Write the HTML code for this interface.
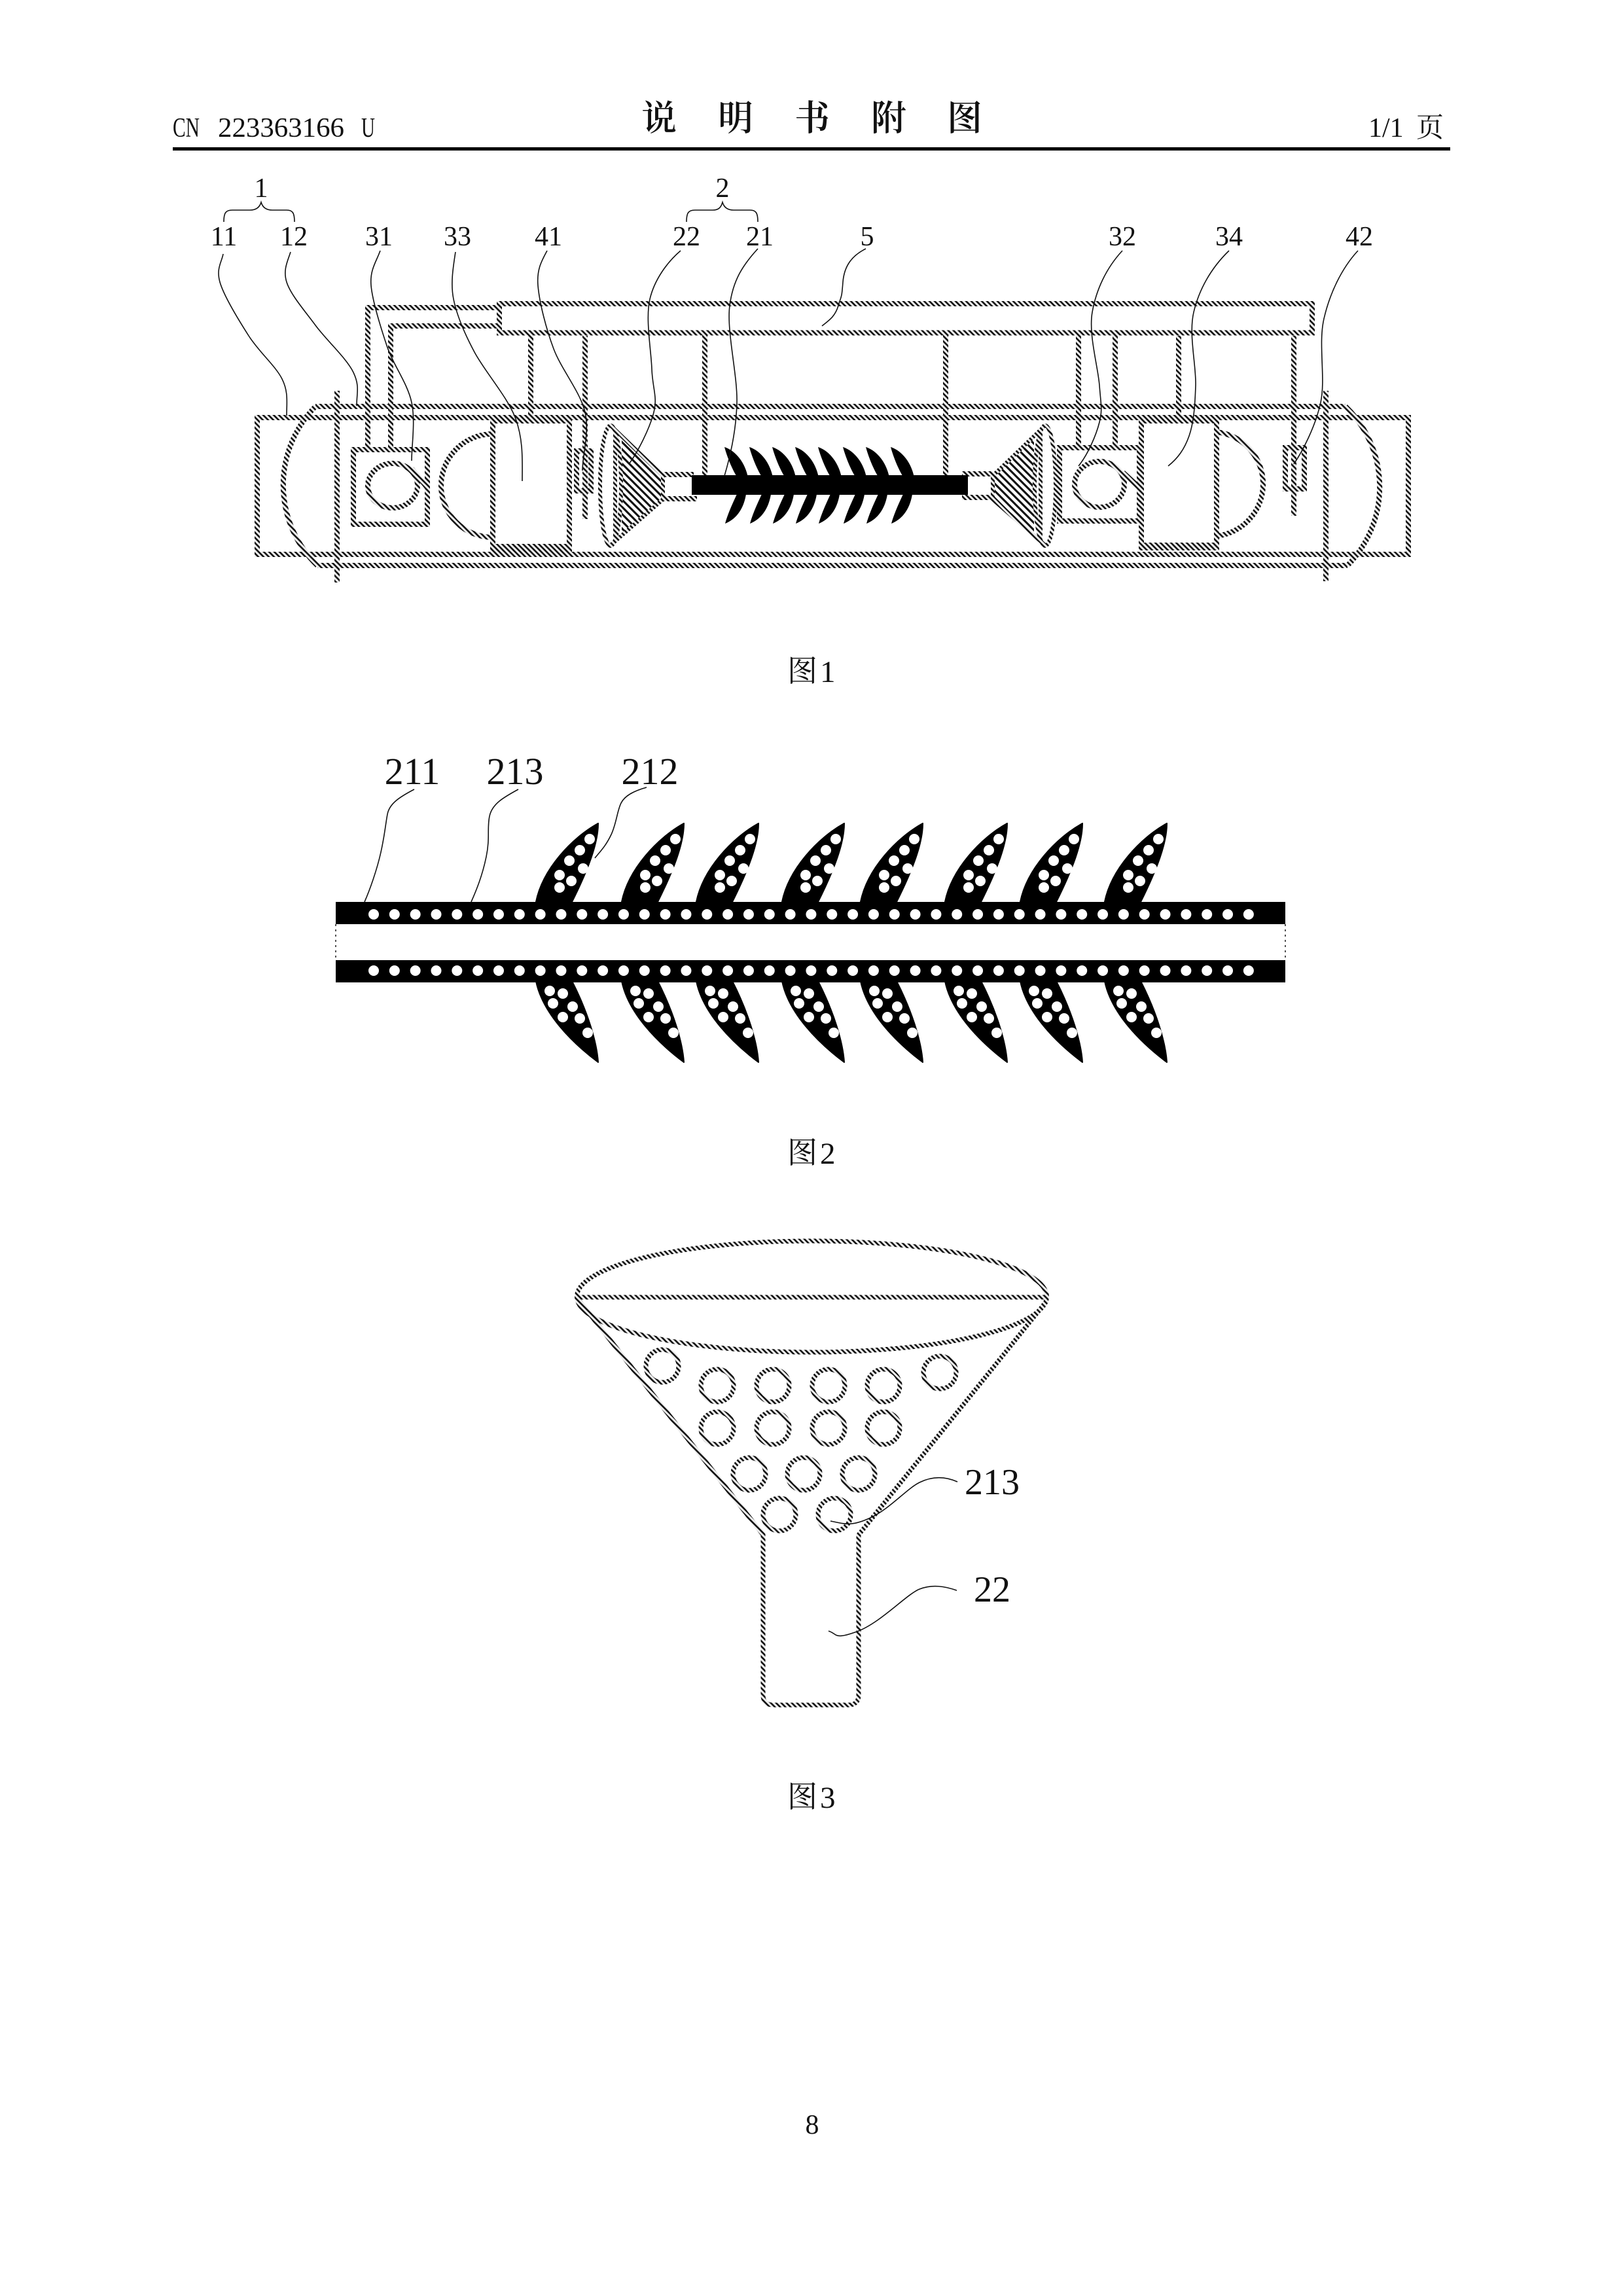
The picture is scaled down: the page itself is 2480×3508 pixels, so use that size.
<!DOCTYPE html>
<html><head><meta charset="utf-8"><style>
html,body{margin:0;padding:0;background:#fff}
svg{display:block}
.s{font-family:"Liberation Serif","Noto Serif CJK SC",serif;fill:#111}
.n{font-size:42px;text-anchor:middle}
.b{font-size:58px;text-anchor:middle}
.l{fill:none;stroke:#111;stroke-width:1.6}
.h{fill:none;stroke:url(#h);stroke-width:8}
.h2{fill:none;stroke:url(#h);stroke-width:7}
</style></head><body>
<svg xmlns="http://www.w3.org/2000/svg" width="2480" height="3508" viewBox="0 0 2480 3508">
<defs>
<pattern id="h" patternUnits="userSpaceOnUse" width="8" height="8">
<rect width="8" height="8" fill="#ededed"/>
<path d="M-2 6L2 10M0 0L8 8M6 -2L10 2" stroke="#111" stroke-width="2.6"/>
</pattern>
<pattern id="f" patternUnits="userSpaceOnUse" width="11" height="11">
<rect width="11" height="11" fill="#fff"/>
<path d="M-2 9L2 13M0 0L11 11M9 -2L13 2" stroke="#111" stroke-width="3.1"/>
</pattern>
<path id="lt" d="M0 0C18 6 32 25 36 47L20 47C12 35 4 15 0 0Z" fill="#000"/>
<path id="lb" d="M0 0C15 -6 28 -20 32 -45L18 -45C12 -32 4 -15 0 0Z" fill="#000"/>
<g id="t2">
<path d="M0 0C-40 22 -85 70 -95 120L-40 120C-15 70 0 30 0 0Z" fill="#000" stroke="#000" stroke-width="2" stroke-linejoin="round"/>
<g fill="#fff"><circle cx="-13" cy="24" r="8"/><circle cx="-28" cy="41" r="8"/><circle cx="-44" cy="57" r="8"/><circle cx="-23" cy="69" r="8"/><circle cx="-59" cy="79" r="8"/><circle cx="-41" cy="88" r="8"/><circle cx="-59" cy="98" r="8"/></g>
</g>
<g id="b2">
<path d="M0 0C-40 -30 -85 -75 -95 -124L-40 -124C-15 -75 -2 -30 0 0Z" fill="#000" stroke="#000" stroke-width="2" stroke-linejoin="round"/>
<g fill="#fff"><circle cx="-74" cy="-109" r="8"/><circle cx="-54" cy="-105" r="8"/><circle cx="-69" cy="-90" r="8"/><circle cx="-39" cy="-85" r="8"/><circle cx="-54" cy="-69" r="8"/><circle cx="-28" cy="-67" r="8"/><circle cx="-16" cy="-45" r="8"/></g>
</g>
</defs>
<rect width="2480" height="3508" fill="#fff"/>

<!-- header -->
<text class="s" x="264" y="209" font-size="42" textLength="41" lengthAdjust="spacingAndGlyphs">CN</text>
<text class="s" x="333" y="209" font-size="42" textLength="193" lengthAdjust="spacingAndGlyphs">223363166</text>
<text class="s" x="552" y="209" font-size="42" textLength="21" lengthAdjust="spacingAndGlyphs">U</text>
<g class="s" font-size="54" font-weight="600" text-anchor="middle" style="font-family:'Noto Serif CJK SC',serif">
<text x="1007" y="199">说</text><text x="1124" y="199">明</text><text x="1241" y="199">书</text><text x="1358" y="199">附</text><text x="1474" y="199">图</text>
</g>
<text class="s" x="2091" y="209" font-size="42">1/1</text>
<text class="s" x="2164" y="209" font-size="42" style="font-family:'Noto Serif CJK SC',serif">页</text>
<rect x="264" y="225" width="1952" height="5" fill="#000"/>

<!-- fig 1 labels -->
<g class="s n">
<text x="399" y="301">1</text><text x="1104" y="301">2</text>
<text x="342" y="375">11</text><text x="449" y="375">12</text><text x="579" y="375">31</text><text x="699" y="375">33</text><text x="838" y="375">41</text><text x="1049" y="375">22</text><text x="1161" y="375">21</text><text x="1325" y="375">5</text><text x="1715" y="375">32</text><text x="1878" y="375">34</text><text x="2077" y="375">42</text>
</g>
<path class="l" d="M342 339C342 325 345 321 355 321H382C392 321 397 316 399 309C401 316 406 321 416 321H438C447 321 450 325 450 339"/>
<path class="l" d="M1049 339C1049 325 1052 321 1062 321H1089C1099 321 1102 316 1104 309C1106 316 1111 321 1121 321H1146C1155 321 1158 325 1158 339"/>

<!-- fig 1 structure -->
<g class="h">
<rect x="393" y="638" width="1759" height="209"/>
<path d="M482 621H2056M485 864H2059"/>
<path d="M482 621A171 171 0 0 0 485 864"/>
<path d="M2056 621A171 171 0 0 1 2059 864"/>
<path d="M515 597V890M2026 597V888"/>
<rect x="763" y="464" width="1242" height="44.5"/>
<path d="M763 470H562V686M763 498H597V686"/>
<rect x="540" y="687" width="113" height="114"/>
<ellipse cx="600" cy="742" rx="38" ry="34"/>
<path d="M629 716L653 745"/>
<path d="M753 663V839H870V643H753V663"/>
<path d="M753 663A79 79 0 0 0 753 821"/>
<path d="M753 836H870" style="stroke-width:10"/>
<path d="M811 508V640M894 513V793"/>
<rect x="881" y="689" width="22" height="61"/>
<path d="M1077 508V727M1445 508V727"/>
<path d="M1013 725H1060M1013 762H1065M1517 724H1470M1517 760H1470"/>
<rect x="1619" y="684" width="122" height="112"/>
<ellipse cx="1680" cy="740" rx="38" ry="35"/>
<path d="M1716 722L1741 745"/>
<path d="M1648 508V684M1704 508V684M1801 513V640M1977 513V788"/>
<rect x="1964" y="684" width="29" height="63"/>
<path d="M1744 643H1859V837H1744Z"/>
<path d="M1859 660A80 80 0 0 1 1859 819"/>
<path d="M1744 834H1859" style="stroke-width:10"/>
</g>
<!-- funnels -->
<path d="M950 664L1013 727V763L950 820Z" fill="url(#f)"/>
<path d="M1580 664L1517 727V763L1580 820Z" fill="url(#f)"/>
<g class="h" style="stroke-width:6">
<path d="M933 650L1013 727V763L933 833"/>
<ellipse cx="933" cy="742" rx="16" ry="92"/>
<path d="M940 662V822"/>
<path d="M1597 650L1517 727V763L1597 833"/>
<ellipse cx="1597" cy="742" rx="16" ry="92"/>
<path d="M1590 662V822"/>
</g>
<!-- fig 1 bar and leaves -->
<rect x="1057" y="726" width="422" height="30" fill="#000"/>
<use href="#lt" x="1107" y="683"/><use href="#lt" x="1145" y="683"/><use href="#lt" x="1180" y="683"/><use href="#lt" x="1215" y="683"/><use href="#lt" x="1250" y="683"/><use href="#lt" x="1288" y="683"/><use href="#lt" x="1323" y="683"/><use href="#lt" x="1361" y="683"/>
<use href="#lb" x="1108" y="800"/><use href="#lb" x="1146" y="800"/><use href="#lb" x="1181" y="800"/><use href="#lb" x="1216" y="800"/><use href="#lb" x="1251" y="800"/><use href="#lb" x="1289" y="800"/><use href="#lb" x="1324" y="800"/><use href="#lb" x="1362" y="800"/>
<!-- fig 1 leaders -->
<g class="l">
<path d="M341 388C339 400 330 410 336 431S364 488 380 513S421 559 431 579S438 615 438 635"/>
<path d="M444 385C440 398 432 412 438 431S465 474 482 497S530 548 540 569S545 600 545 620"/>
<path d="M581 383C575 400 565 412 567 436S581 498 591 528S623 586 629 615S629 680 629 704"/>
<path d="M696 385C693 405 688 432 693 457S709 508 725 538S776 607 788 640S798 705 798 735"/>
<path d="M836 383C828 398 820 411 822 436S834 501 846 533S887 599 894 630S890 695 890 719"/>
<path d="M1040 383C1020 400 1000 427 993 457S995 535 996 564S1005 606 999 630S975 690 961 709"/>
<path d="M1158 380C1135 405 1120 428 1115 467S1127 572 1126 615S1115 700 1107 727"/>
<path d="M1323 380C1303 390 1290 405 1288 431S1286 450 1281 467S1266 490 1256 498"/>
<path d="M1715 383C1690 410 1675 443 1669 477S1678 561 1680 589S1685 625 1680 645S1662 695 1648 712"/>
<path d="M1878 383C1850 410 1832 443 1824 477S1828 558 1827 589S1824 646 1817 666S1800 700 1785 712"/>
<path d="M2075 383C2050 410 2032 448 2023 487S2026 578 2018 615S1990 690 1977 709"/>
</g>
<text class="s" x="1203" y="1041" font-size="46" style="font-family:'Noto Serif CJK SC',serif">图</text>
<text class="s" x="1253" y="1042" font-size="47">1</text>

<!-- fig 2 -->
<g class="s b"><text x="630" y="1198">211</text><text x="787" y="1198">213</text><text x="993" y="1198">212</text></g>
<use href="#t2" x="914" y="1258"/><use href="#t2" x="1045" y="1258"/><use href="#t2" x="1159" y="1258"/><use href="#t2" x="1290" y="1258"/><use href="#t2" x="1410" y="1258"/><use href="#t2" x="1539" y="1258"/><use href="#t2" x="1654" y="1258"/><use href="#t2" x="1783" y="1258"/>
<use href="#b2" x="914" y="1623"/><use href="#b2" x="1045" y="1623"/><use href="#b2" x="1159" y="1623"/><use href="#b2" x="1290" y="1623"/><use href="#b2" x="1410" y="1623"/><use href="#b2" x="1539" y="1623"/><use href="#b2" x="1654" y="1623"/><use href="#b2" x="1783" y="1623"/>
<rect x="513" y="1378" width="1451" height="34" fill="#000"/>
<rect x="513" y="1467" width="1451" height="34" fill="#000"/>
<path d="M513 1412V1467M1964 1412V1467" stroke="#555" stroke-width="2" stroke-dasharray="3 5" fill="none"/>
<path d="M571 1397H1910M571 1483H1910" stroke="#fff" stroke-width="16" stroke-linecap="round" stroke-dasharray="0 31.83" fill="none"/>
<g class="l">
<path d="M633 1206C610 1218 595 1228 592 1244S588 1275 582 1302S565 1360 557 1378"/>
<path d="M792 1206C770 1218 752 1228 748 1247S749 1280 743 1309S728 1360 720 1378"/>
<path d="M988 1203C970 1208 955 1215 949 1227S942 1258 934 1275S918 1300 909 1311"/>
</g>
<text class="s" x="1203" y="1777" font-size="46" style="font-family:'Noto Serif CJK SC',serif">图</text>
<text class="s" x="1253" y="1778" font-size="47">2</text>

<!-- fig 3 -->
<g class="h2">
<ellipse cx="1240.5" cy="1981" rx="359" ry="85"/>
<path d="M881 1982H1600"/>
<path d="M881 1982L1166 2345V2590Q1166 2605 1182 2605H1296Q1312 2605 1312 2590V2345L1600 1987"/>
<circle cx="1012" cy="2087" r="25"/><circle cx="1096" cy="2117" r="25"/><circle cx="1181" cy="2117" r="25"/><circle cx="1266" cy="2117" r="25"/><circle cx="1350" cy="2117" r="25"/><circle cx="1436" cy="2097" r="25"/>
<circle cx="1096" cy="2182" r="25"/><circle cx="1181" cy="2182" r="25"/><circle cx="1266" cy="2182" r="25"/><circle cx="1350" cy="2182" r="25"/>
<circle cx="1145" cy="2252" r="25"/><circle cx="1228" cy="2252" r="25"/><circle cx="1312" cy="2252" r="25"/>
<circle cx="1191" cy="2314" r="25"/><circle cx="1275" cy="2314" r="25"/>
</g>
<g class="l">
<path d="M1463 2264C1445 2256 1425 2255 1405 2265S1360 2305 1330 2319S1290 2328 1269 2324"/>
<path d="M1462 2430C1445 2424 1425 2420 1405 2428S1345 2480 1309 2493S1280 2496 1266 2492"/>
</g>
<g class="s b" style="font-size:56px"><text x="1516" y="2283">213</text><text x="1516" y="2447">22</text></g>
<text class="s" x="1203" y="2761" font-size="46" style="font-family:'Noto Serif CJK SC',serif">图</text>
<text class="s" x="1253" y="2762" font-size="47">3</text>

<text class="s n" x="1241" y="3260">8</text>
</svg>
</body></html>
